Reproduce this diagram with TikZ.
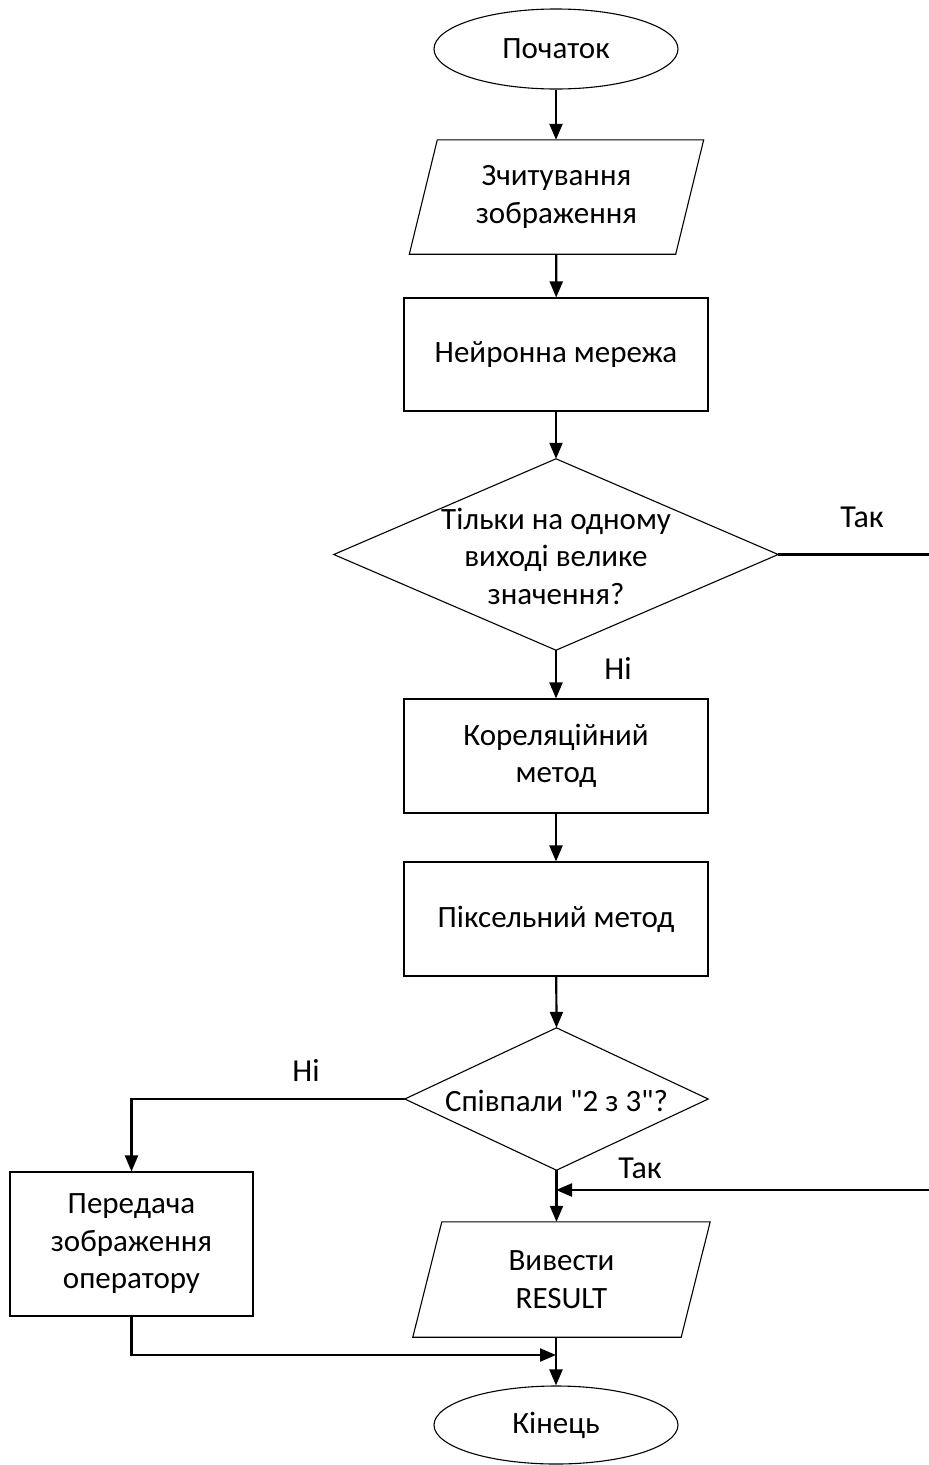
\documentclass[tikz,border=0pt]{standalone}
\usepackage{fontspec}
\setmainfont{Carlito}[Ligatures=TeXOff]
\usetikzlibrary{arrows.meta,shapes.geometric,calc}
\begin{document}
\begin{tikzpicture}[x=1pt,y=-1pt,
  every node/.style={font=\fontsize{31}{37.5}\selectfont, align=center, inner sep=0pt},
  term/.style={draw, ellipse, line width=1.1pt, minimum width=244pt, minimum height=80pt},
  procbox/.style={draw, rectangle, line width=1.1pt},
  iobox/.style={rectangle, minimum width=266pt, minimum height=114pt},
  outline/.style={line width=1.1pt},
  flow/.style={line width=2.2pt, -{Triangle[length=16pt,width=13pt]}},
  link/.style={line width=2.2pt},
  lbl/.style={font=\fontsize{32}{36}\selectfont}]
\useasboundingbox (0,0) rectangle (929,1465);

% terminals, operations and data blocks
\node[term] (start) at (556,49) {Початок};
\node[iobox] (read) at (556.5,197) {Зчитування\\зображення};
\node[procbox, minimum width=304pt, minimum height=113pt] (nn) at (556,354.5) {Нейронна мережа};
\node[minimum width=444pt, minimum height=191pt] (d1) at (556,554.5) {};
\draw[outline] (d1.north) -- (d1.east) -- (d1.south) -- (d1.west) -- cycle;
\node at (556,556) {Тільки на одному\\виході велике\\значення?};
\node[procbox, minimum width=304pt, minimum height=114pt] (corr) at (556,756) {Кореляційний\\метод};
\node[procbox, minimum width=304pt, minimum height=114pt] (pix) at (556,919) {Піксельний метод};
\node[minimum width=303pt, minimum height=142pt] (d2) at (556.5,1099) {};
\draw[outline] (d2.north) -- (d2.east) -- (d2.south) -- (d2.west) -- cycle;
\node at (556.5,1101) {Співпали "2 з 3"?};
\node[procbox, minimum width=243pt, minimum height=144pt] (oper) at (131.5,1244) {Передача\\зображення\\оператору};
\node[iobox, minimum width=268pt, minimum height=115pt] (out) at (561.5,1279.5) {Вивести\\RESULT};
\node[term, minimum height=78pt] (stop) at (556,1425) {Кінець};

% parallelogram outlines of the data blocks
\draw[outline] ($(read.north west)+(14,0)$) -- ($(read.north east)+(14,0)$)
  -- ($(read.south east)+(-14,0)$) -- ($(read.south west)+(-14,0)$) -- cycle;
\draw[outline] ($(out.north west)+(14.5,0)$) -- ($(out.north east)+(14.5,0)$)
  -- ($(out.south east)+(-14.5,0)$) -- ($(out.south west)+(-14.5,0)$) -- cycle;

% helper points
\coordinate (fr) at (945,554.5);
\coordinate (fr2) at (945,1190);
\coordinate (jn) at (556,1190);
\coordinate (nl) at (131.5,1099);
\coordinate (bl) at (131.5,1355);
\coordinate (jb) at (556,1355);

% connectors
\draw[flow] (start) -- (start |- read.north);
\draw[flow] (read) -- (nn);
\draw[flow] (nn) -- (d1.north);
\draw[flow] (d1.south) -- (corr);
\draw[flow] (corr) -- (pix);
\draw[flow] (pix) -- (d2.north);
\draw[flow] (d2.west) -- (nl) -- (oper);
\draw[flow] (d2.south) -- (d2.south |- out.north);
\draw[flow] (d1.east) -- (fr) -- (fr2) -- (jn);
\draw[flow] (out.south -| stop) -- (stop);
\draw[flow] (oper) -- (bl) -- (jb);

% branch labels
\node[lbl] (yes1) at (862,517) {Так};
\node[lbl] (no1) at (618,668) {Ні};
\node[lbl] (no2) at (306,1070) {Ні};
\node[lbl] (yes2) at (640,1168) {Так};
\end{tikzpicture}
\end{document}
